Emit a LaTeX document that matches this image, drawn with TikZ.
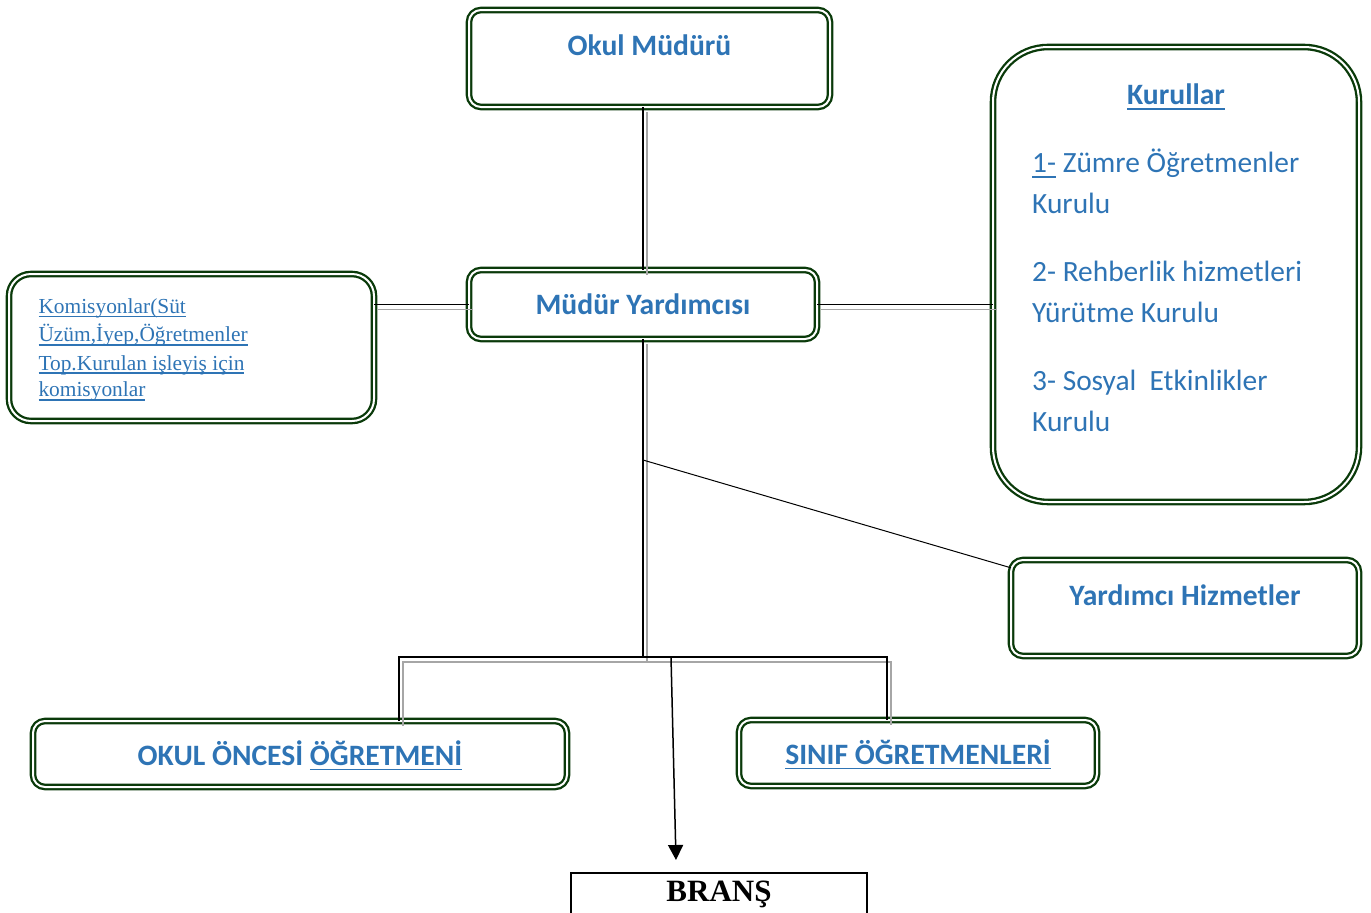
\documentclass[tikz,border=0pt]{standalone}
\usepackage{fontspec}
\setmainfont{Carlito}
\newfontfamily\timesfont{Liberation Serif}
\usetikzlibrary{arrows.meta}
\definecolor{titleblue}{HTML}{2E74B5}
\definecolor{boxgreen}{HTML}{0A3A0A}
% underline at a fixed depth
\newcommand{\undl}[1]{\setbox0\hbox{#1}\rlap{\rule[-0.18em]{\wd0}{1.6pt}}\box0{}}

\tikzset{
  box/.style={draw=boxgreen, double=white, line width=2.3pt, double distance=2pt,
    rounded corners=12pt, inner sep=0pt, outer sep=0pt, align=center, text=titleblue,
    font=\fontsize{29.6}{35}\selectfont\bfseries},
  kurulline/.style={anchor=base west, inner sep=0pt, text=titleblue, font=\fontsize{29.4}{35}\selectfont},
  komisline/.style={anchor=base west, inner sep=0pt, text=titleblue, font=\timesfont\fontsize{21.4}{26}\selectfont},
  link/.style={line width=1.8pt},
  shade/.style={draw=black!35, line width=1.5pt, transform canvas={shift={(4,5)}}},
}

\begin{document}
\begin{tikzpicture}[x=1pt, y=-1pt]
\useasboundingbox (0,0) rectangle (1371,913);

% boxes
\node[box, minimum width=361pt, text height=45pt, text depth=52pt, anchor=base] (mudur) at (649.5,55) {Okul Müdürü};
\node[box, minimum width=348pt, text height=44pt, text depth=25pt, anchor=base] (yard) at (643,314) {Müdür Yardımcısı};
\node[box, rounded corners=22pt, minimum width=365pt, minimum height=147pt] (komis) at (191.5,347.5) {};
\node[box, rounded corners=55pt, minimum width=366pt, minimum height=455pt] (kurul) at (1176,274.5) {};
\node[box, minimum width=348pt, text height=45pt, text depth=51pt, anchor=base] (yhiz) at (1185,605) {Yardımcı Hizmetler};
\node[box, minimum width=534pt, text height=44pt, text depth=22pt, anchor=base] (okulon) at (300,765) {OKUL ÖNCESİ \undl{ÖĞRETMENİ}};
\node[box, minimum width=358pt, text height=44pt, text depth=22pt, anchor=base] (sinif) at (918,764) {\undl{SINIF ÖĞRETMENLERİ}};
\node[draw, line width=2pt, inner sep=0pt, minimum width=296pt, text height=28.5pt, text depth=25pt, anchor=base,
  font=\timesfont\fontsize{31}{36}\selectfont\bfseries] (brans) at (719,901.5) {BRANŞ};

% texts in the big boxes
\node[komisline] (komis1) at (38.3,313.3) {\undl{Komisyonlar(Süt}};
\node[komisline] (komis2) at (38.3,341.7) {\undl{Üzüm,İyep,Öğretmenler}};
\node[komisline] (komis3) at (38.3,370) {\undl{Top.Kurulan işleyiş için}};
\node[komisline] (komis4) at (38.3,396.7) {\undl{komisyonlar}};

\node[anchor=base, inner sep=0pt, text=titleblue, font=\fontsize{29.6}{35}\selectfont\bfseries] (kurulT) at (1176,104.3) {\undl{Kurullar}};
\node[kurulline] (kurul1) at (1032,172.7) {\undl{1-} Zümre Öğretmenler};
\node[kurulline] (kurul2) at (1032,213.3) {Kurulu};
\node[kurulline] (kurul3) at (1032,281.7) {2- Rehberlik hizmetleri};
\node[kurulline] (kurul4) at (1032,322.3) {Yürütme Kurulu};
\node[kurulline] (kurul5) at (1032,390.7) {3- Sosyal\ \ Etkinlikler};
\node[kurulline] (kurul6) at (1032,431.3) {Kurulu};

\coordinate (jn) at (643,460);
\coordinate (busL) at (399,657);
\coordinate (busR) at (887,657);
\coordinate (busA) at (671,657);
\coordinate (arr) at (676,860);

% grey shadows of the links
\draw[shade] (yard.north |- mudur.south) -- (yard.north);
\draw[shade] (yard.south) -- (yard.south |- busL);
\draw[shade] (yard.west) -- (yard.west -| komis.east);
\draw[shade] (yard.east) -- (yard.east -| kurul.west);
\draw[shade] (busL |- okulon.north) -- (busL) -- (busR) -- (busR |- sinif.north);

% links
\draw[link] (yard.north |- mudur.south) -- (yard.north);
\draw[link] (yard.south) -- (yard.south |- busL);
\draw[link] (yard.west) -- (yard.west -| komis.east);
\draw[link] (yard.east) -- (yard.east -| kurul.west);
\draw[link] (busL |- okulon.north) -- (busL) -- (busR) -- (busR |- sinif.north);
\draw[line width=1pt] (jn) -- (yhiz.167); % to Yardimci Hizmetler
\draw[line width=1.5pt, -{Triangle[length=15pt, width=15pt]}] (busA) -- (arr); % to BRANS
\end{tikzpicture}
\end{document}
